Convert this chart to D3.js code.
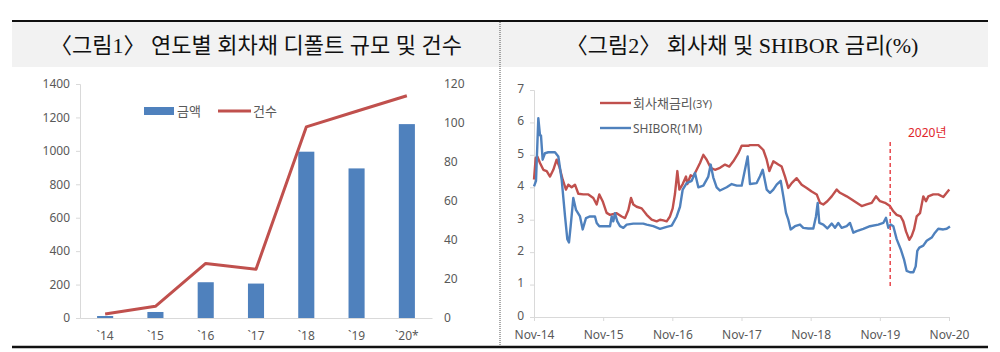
<!DOCTYPE html>
<html>
<head>
<meta charset="utf-8">
<script src="https://cdn.jsdelivr.net/npm/d3@7"></script>
<style>
  body { margin: 0; background: #fff; }
  svg { display: block; }
  text { font-family: "Noto Sans", "Noto Sans CJK KR", sans-serif; fill: #595959; }
  .title { font-family: "Liberation Serif", "Noto Sans CJK KR", serif; fill: #111; font-size: 22px; }
</style>
</head>
<body>
<svg id="chart" width="1000" height="352"></svg>
<script>
// ---- figure 1 : default amount (bars) and count (line) ----
const years = ["`14", "`15", "`16", "`17", "`18", "`19", "`20*"];
const amount = [12, 36, 214, 206, 995, 895, 1160];
const count = [2, 6, 28, 25, 98, 106, 114];
const amountTicks = [0, 200, 400, 600, 800, 1000, 1200, 1400];
const countTicks = [0, 20, 40, 60, 80, 100, 120];

// ---- figure 2 : corp bond 3Y vs SHIBOR 1M, x = months after Nov-14 ----
const monthLabels = ["Nov-14", "Nov-15", "Nov-16", "Nov-17", "Nov-18", "Nov-19", "Nov-20"];
const rateTicks = [0, 1, 2, 3, 4, 5, 6, 7];
const corpBond = [[0,4.24],[0.29,4.9],[0.58,4.95],[1.04,4.75],[1.62,4.54],[2.2,4.5],[2.78,4.33],[3.35,4.54],[3.93,4.85],[4.39,4.64],[4.97,4.24],[5.55,3.93],[5.95,4.08],[6.53,4.0],[7.11,4.08],[7.69,3.8],[8.56,3.78],[9.43,3.78],[10.29,3.67],[10.87,3.47],[11.33,3.78],[11.91,3.57],[12.6,3.21],[13.19,3.15],[14.34,3.2],[15.21,3.1],[15.79,3.05],[16.37,3.3],[16.83,3.67],[17.23,3.47],[17.81,3.4],[18.68,3.35],[19.55,3.15],[20.41,3.0],[21.28,2.95],[21.86,3.0],[22.44,2.98],[23.02,2.95],[23.59,3.1],[24.06,3.35],[24.46,3.8],[24.87,4.5],[25.22,3.93],[25.8,4.1],[26.37,4.33],[26.6,4.1],[27.18,4.37],[27.64,4.33],[28.22,4.54],[28.8,4.75],[29.38,5.0],[29.96,4.85],[30.65,4.6],[31.4,4.54],[32.27,4.6],[33.14,4.7],[33.89,4.64],[34.58,4.8],[35.45,5.05],[36.03,5.28],[37.18,5.28],[37.47,5.3],[38.92,5.3],[39.79,5.15],[40.37,4.85],[40.83,4.5],[41.52,4.8],[42.39,4.7],[42.97,4.64],[43.55,4.33],[44.12,3.98],[44.71,4.13],[45.57,4.28],[46.44,4.08],[47.31,3.98],[48.17,3.87],[49.05,3.78],[49.62,3.52],[50.19,3.47],[50.89,3.57],[51.65,3.72],[52.52,3.93],[53.09,3.83],[54.25,3.72],[55.12,3.62],[55.98,3.52],[56.85,3.42],[57.72,3.47],[58.59,3.52],[59.33,3.72],[60.03,3.57],[60.9,3.52],[61.76,3.42],[62.34,3.26],[62.92,3.15],[63.62,3.1],[64.07,2.95],[64.54,2.64],[65.11,2.38],[65.53,2.5],[65.93,2.7],[66.39,3.1],[66.97,3.2],[67.54,3.72],[68.01,3.57],[68.41,3.72],[69.27,3.78],[70.14,3.78],[71.01,3.7],[71.6,3.83],[72.05,3.93]];
const shibor = [[0,4.03],[0.35,4.2],[0.75,6.13],[1.04,5.6],[1.21,5.6],[1.5,4.85],[1.9,5.05],[2.48,5.08],[3.64,5.08],[4.22,4.95],[4.8,4.24],[5.38,3.11],[5.78,2.4],[6.07,2.3],[6.36,2.8],[6.82,3.67],[7.29,3.3],[7.98,3.1],[8.45,2.7],[9.02,3.05],[9.72,3.1],[10.58,3.1],[10.88,2.9],[11.33,2.8],[13.19,2.8],[13.48,3.1],[13.76,2.95],[14.05,3.2],[14.45,2.95],[14.92,2.8],[15.5,2.75],[16.08,2.85],[17.23,2.88],[18.96,2.88],[19.55,2.85],[20.7,2.8],[21.86,2.72],[23.02,2.78],[23.89,2.82],[24.76,3.1],[25.33,3.4],[25.8,3.93],[26.49,4.13],[27.36,4.2],[27.93,4.44],[28.51,4.0],[29.38,4.05],[30.24,4.33],[30.65,4.7],[31.11,4.3],[31.69,4.0],[32.27,3.9],[33.43,4.0],[34.3,4.1],[35.17,4.05],[36.03,4.05],[37.07,4.95],[37.47,4.1],[38.63,4.13],[39.21,4.34],[39.68,4.54],[40.37,3.93],[40.94,3.83],[41.52,3.93],[42.1,4.08],[42.8,4.2],[43.26,3.72],[43.72,3.21],[44.12,3.0],[44.53,2.7],[45.28,2.8],[46.15,2.85],[46.72,2.75],[47.59,2.73],[48.46,2.73],[48.92,3.1],[49.22,3.52],[49.5,2.9],[50.19,2.85],[50.89,2.73],[51.65,2.88],[52.22,2.75],[52.79,2.9],[53.38,2.75],[54.25,2.8],[54.82,2.9],[55.4,2.6],[55.98,2.65],[57.13,2.72],[58.29,2.8],[59.73,2.85],[60.6,2.9],[61.07,3.06],[61.47,2.75],[61.88,2.85],[62.34,2.8],[62.92,2.4],[63.62,2.09],[64.19,1.78],[64.66,1.42],[65.23,1.38],[65.81,1.38],[66.22,1.56],[66.5,2.04],[66.85,2.14],[67.54,2.2],[68.13,2.35],[69.0,2.45],[69.57,2.6],[70.14,2.72],[71.01,2.7],[71.6,2.72],[72.17,2.79]];
const marker2020 = 61.8;

const svg = d3.select("#chart");
const blue = "#4f81bd", red = "#c0504d", grid = "#d9d9d9";

// frame and title bands
svg.append("rect").attr("x", 12).attr("y", 22).attr("width", 976).attr("height", 45).attr("fill", "#f2f2f2");
svg.append("line").attr("x1", 12).attr("x2", 988).attr("y1", 21).attr("y2", 21).attr("stroke", "#111").attr("stroke-width", 2);
svg.append("line").attr("x1", 12).attr("x2", 988).attr("y1", 347).attr("y2", 347).attr("stroke", "#111").attr("stroke-width", 2.5);
svg.append("line").attr("x1", 500).attr("x2", 500).attr("y1", 22).attr("y2", 346)
    .attr("stroke", "#555").attr("stroke-width", 1).attr("stroke-dasharray", "1,1");

svg.append("text").attr("class", "title").attr("x", 256).attr("y", 53).attr("text-anchor", "middle")
    .text("〈그림1〉 연도별 회차채 디폴트 규모 및 건수");
svg.append("text").attr("class", "title").attr("x", 742).attr("y", 53).attr("text-anchor", "middle")
    .text("〈그림2〉 회사채 및 SHIBOR 금리(%)");

function styleAxis(g, fs) {
    g.selectAll(".domain").attr("stroke", grid);
    g.selectAll(".tick line").attr("stroke", grid);
    g.selectAll(".tick text").attr("fill", "#595959").style("font-size", fs + "px")
        .style("font-family", "'Noto Sans', sans-serif");
}

//////////////////////////////////////////////////////////
// figure 1
const x1 = d3.scaleBand().domain(years).range([80, 432]).paddingInner(0.68).paddingOuter(0.34);
const yL = d3.scaleLinear().domain([0, 1400]).range([318, 84]);
const yR = d3.scaleLinear().domain([0, 120]).range([318, 84]);

let gl = svg.append("g").attr("transform", "translate(80,0)")
    .call(d3.axisLeft(yL).tickValues(amountTicks).tickFormat(d3.format("d")).tickSize(4).tickPadding(6));
styleAxis(gl, 12);

let gr = svg.append("g").attr("transform", "translate(434,0)")
    .call(d3.axisRight(yR).tickValues(countTicks).tickFormat(d3.format("d")).tickSize(0).tickPadding(10));
styleAxis(gr, 12);
gr.select(".domain").remove();

let gb = svg.append("g").attr("transform", "translate(0,318)")
    .call(d3.axisBottom(x1).tickSize(0).tickPadding(13).tickSizeOuter(0));
styleAxis(gb, 12);

svg.append("g").selectAll("rect").data(amount).join("rect")
    .attr("x", (d, i) => x1(years[i]))
    .attr("width", x1.bandwidth())
    .attr("y", d => yL(d))
    .attr("height", d => yL(0) - yL(d))
    .attr("fill", blue);

const line1 = d3.line().x((d, i) => x1(years[i]) + x1.bandwidth() / 2).y(d => yR(d));
svg.append("path").datum(count).attr("d", line1).attr("fill", "none")
    .attr("stroke", red).attr("stroke-width", 3).attr("stroke-linejoin", "round");

// legend
svg.append("rect").attr("x", 144).attr("y", 107).attr("width", 30).attr("height", 8).attr("fill", blue);
svg.append("text").attr("x", 177).attr("y", 116).style("font-size", "13px").text("금액");
svg.append("line").attr("x1", 218).attr("x2", 251).attr("y1", 111).attr("y2", 111)
    .attr("stroke", red).attr("stroke-width", 3);
svg.append("text").attr("x", 253).attr("y", 116).style("font-size", "13px").text("건수");

//////////////////////////////////////////////////////////
// figure 2
const x2 = d3.scaleLinear().domain([0, 72]).range([534, 949]);
const y2 = d3.scaleLinear().domain([0, 7]).range([317, 90]);

let g2l = svg.append("g").attr("transform", "translate(534,0)")
    .call(d3.axisLeft(y2).tickValues(rateTicks).tickFormat(d3.format("d")).tickSize(4).tickPadding(6));
styleAxis(g2l, 12);
g2l.selectAll(".tick text").attr("dy", "0.2em");

let g2b = svg.append("g").attr("transform", "translate(0,317)")
    .call(d3.axisBottom(x2).tickValues(d3.range(0, 73, 12)).tickFormat((d, i) => monthLabels[i])
        .tickSize(4).tickPadding(9).tickSizeOuter(0));
styleAxis(g2b, 12);

const line2 = d3.line().x(d => x2(d[0])).y(d => y2(d[1]));
svg.append("path").datum(corpBond).attr("d", line2).attr("fill", "none")
    .attr("stroke", red).attr("stroke-width", 2.4).attr("stroke-linejoin", "round");
svg.append("path").datum(shibor).attr("d", line2).attr("fill", "none")
    .attr("stroke", blue).attr("stroke-width", 2.4).attr("stroke-linejoin", "round");

// 2020 marker
svg.append("line").attr("x1", x2(marker2020)).attr("x2", x2(marker2020))
    .attr("y1", y2(5.4)).attr("y2", y2(0.95))
    .attr("stroke", "#e8474c").attr("stroke-width", 1.5).attr("stroke-dasharray", "4,3");
svg.append("text").attr("x", 908).attr("y", 137).style("font-size", "12px").style("fill", "#e0262b").text("2020년");

// legend
svg.append("line").attr("x1", 600).attr("x2", 631).attr("y1", 103).attr("y2", 103).attr("stroke", red).attr("stroke-width", 2.4);
let lt = svg.append("text").attr("x", 633).attr("y", 108).style("font-size", "13px");
lt.append("tspan").text("회사채금리");
lt.append("tspan").style("font-size", "11px").text("(3Y)");
svg.append("line").attr("x1", 600).attr("x2", 631).attr("y1", 128).attr("y2", 128).attr("stroke", blue).attr("stroke-width", 2.4);
svg.append("text").attr("x", 633).attr("y", 133).style("font-size", "12px").text("SHIBOR(1M)");
</script>
</body>
</html>
